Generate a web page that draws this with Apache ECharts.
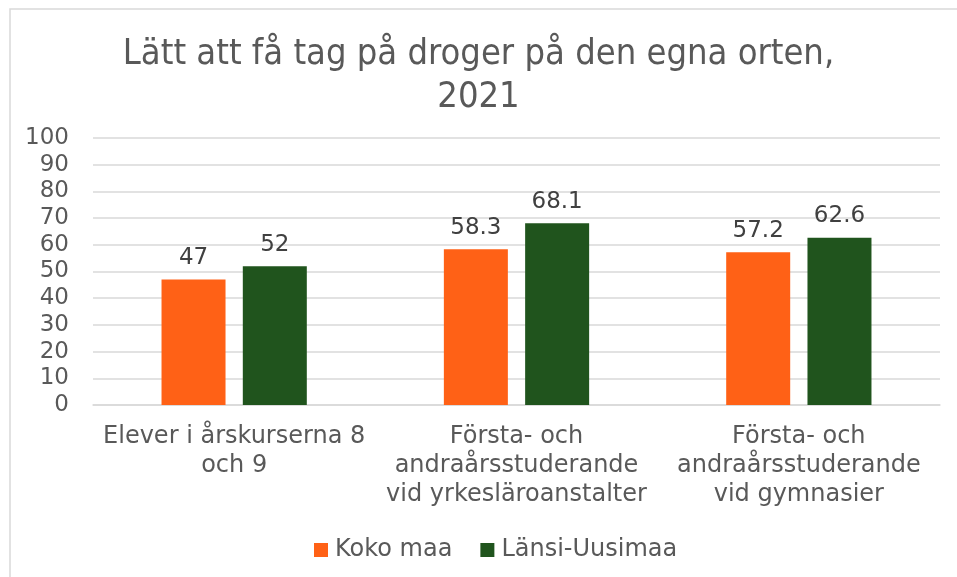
<!DOCTYPE html>
<html>
<head>
<meta charset="utf-8">
<script src="https://cdn.jsdelivr.net/npm/echarts@6/dist/echarts.min.js"></script>
<style>
html, body { margin: 0; padding: 0; background: #fff; }
#main { width: 957px; height: 577px; }
</style>
</head>
<body>
<div id="main"></div>
<script>
var titleText = 'Lätt att få tag på droger på den egna orten,\n2021';
var categories = [
    'Elever i årskurserna 8\noch 9',
    'Första- och\nandraårsstuderande\nvid yrkesläroanstalter',
    'Första- och\nandraårsstuderande\nvid gymnasier'
];
var seriesNames = ['Koko maa', 'Länsi-Uusimaa'];
var kokoMaa = [47, 58.3, 57.2];
var lansiUusimaa = [52, 68.1, 62.6];

var chart = echarts.init(document.getElementById('main'));

var labelOpt = {
    show: true,
    position: 'top',
    distance: 10,
    color: '#404040',
    fontFamily: 'DejaVu Sans',
    fontSize: 23
};

var opt = {
    backgroundColor: '#fff',
    graphic: [{
        type: 'rect',
        shape: { x: 10, y: 9, width: 960, height: 600 },
        style: { fill: 'none', stroke: '#d9d9d9', lineWidth: 1.5 },
        silent: true
    }],
    title: {
        text: titleText,
        left: 'center',
        top: 28,
        textStyle: {
            color: '#595959',
            fontFamily: 'DejaVu Sans Condensed',
            fontWeight: 'normal',
            fontSize: 36,
            lineHeight: 43
        }
    },
    legend: {
        data: seriesNames,
        bottom: 10,
        left: 309,
        itemWidth: 14,
        itemHeight: 14,
        itemGap: 28,
        icon: 'rect',
        textStyle: {
            color: '#595959',
            fontFamily: 'DejaVu Sans',
            fontSize: 24,
            padding: [0, 0, 0, 2]
        }
    },
    grid: {
        left: 93,
        right: 17,
        top: 138,
        bottom: 172
    },
    xAxis: [{
        type: 'category',
        data: categories,
        axisLine: { lineStyle: { color: '#d9d9d9', width: 1.5 } },
        axisTick: { show: false },
        axisLabel: {
            color: '#595959',
            fontFamily: 'DejaVu Sans',
            fontSize: 24,
            lineHeight: 29,
            margin: 17,
            interval: 0
        }
    }],
    yAxis: [{
        type: 'value',
        min: 0,
        max: 100,
        interval: 10,
        axisLine: { show: false },
        axisTick: { show: false },
        splitLine: { lineStyle: { color: '#d9d9d9', width: 1.5 } },
        axisLabel: {
            color: '#595959',
            fontFamily: 'DejaVu Sans',
            fontSize: 23,
            margin: 24
        }
    }],
    series: [
        {
            name: seriesNames[0],
            type: 'bar',
            data: kokoMaa,
            barWidth: 64,
            barGap: '27%',
            itemStyle: { color: '#FF6116' },
            label: labelOpt
        },
        {
            name: seriesNames[1],
            type: 'bar',
            data: lansiUusimaa,
            barWidth: 64,
            itemStyle: { color: '#20541D' },
            label: labelOpt
        }
    ]
};
chart.setOption(opt);
</script>
</body>
</html>
